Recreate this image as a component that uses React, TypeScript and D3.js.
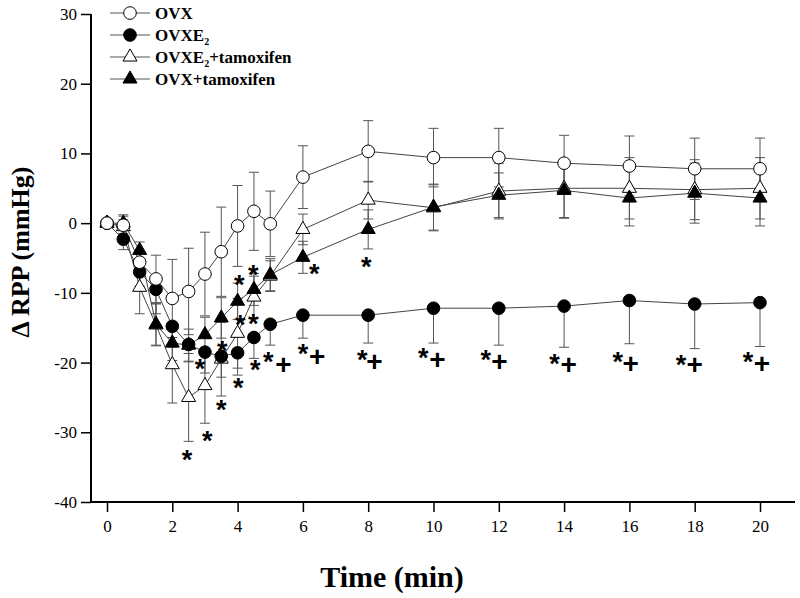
import React, { useRef, useEffect } from "react";
import * as d3 from "d3";

// time points (min)
const times = [0, 0.5, 1, 1.5, 2, 2.5, 3, 3.5, 4, 4.5, 5, 6, 8, 10, 12, 14, 16, 18, 20];

// delta RPP (mmHg) for each group
const ovx = [0, -0.3, -5.6, -8.0, -10.8, -9.8, -7.3, -4.1, -0.4, 1.7, -0.1, 6.6, 10.3, 9.4, 9.4, 8.6, 8.2, 7.8, 7.8];
const ovxErr = [0.5, 1.5, 1.5, 3.4, 5.6, 6.2, 6.0, 6.4, 5.8, 5.6, 4.7, 4.5, 4.4, 4.2, 4.2, 4.0, 4.3, 4.4, 4.4];

const ovxE2 = [0, -2.3, -7.0, -9.5, -14.8, -17.4, -18.5, -19.1, -18.6, -16.4, -14.5, -13.2, -13.2, -12.2, -12.2, -11.9, -11.1, -11.6, -11.4];
const ovxE2Err = [0.3, 1.5, 2.0, 3.5, 3.0, 2.5, 3.0, 3.0, 3.2, 3.0, 3.0, 3.3, 4.0, 5.0, 5.3, 5.9, 6.2, 6.4, 6.3];

const ovxE2Tam = [0, -0.5, -9.2, -14.6, -20.3, -25.0, -23.3, -19.5, -15.8, -10.6, -7.6, -0.9, 3.3, 2.2, 4.6, 5.0, 5.0, 4.8, 5.0];
const ovxE2TamErr = [0.5, 1.0, 3.8, 3.0, 5.5, 6.3, 5.4, 5.3, 5.0, 3.0, 2.2, 2.2, 2.7, 3.3, 4.0, 4.2, 4.4, 4.3, 4.4];

const ovxTam = [0, 0.0, -3.9, -14.5, -17.2, -17.5, -16.0, -13.6, -11.2, -9.5, -7.4, -4.9, -0.9, 2.3, 4.0, 4.7, 3.6, 4.3, 3.6];
const ovxTamErr = [0.5, 1.0, 1.2, 3.0, 2.5, 2.3, 2.5, 2.9, 2.6, 2.3, 2.3, 2.3, 2.8, 3.3, 3.2, 4.0, 4.0, 4.3, 4.0];

// significance marks (time, value)
const starT = [2.45, 3.07, 3.5, 3.53, 2.85, 4.02, 4.08, 4.48, 4.54, 4.94, 4.05, 4.48, 6.35, 7.94, 6.0, 7.82, 9.69, 11.6, 13.71, 15.64, 17.58, 19.63];
const starV = [-33.2, -30.4, -25.9, -17.5, -20.1, -22.8, -13.8, -13.6, -20.2, -19.1, -8.0, -6.6, -6.4, -5.4, -18.0, -18.8, -18.5, -18.8, -19.3, -19.1, -19.5, -19.1];
const plusT = [5.4, 6.44, 8.19, 10.12, 12.02, 14.14, 16.04, 18.0, 20.06];
const plusV = [-20.2, -19.1, -19.8, -19.5, -19.8, -20.3, -20.1, -20.3, -20.1];

const xTicks = [0, 2, 4, 6, 8, 10, 12, 14, 16, 18, 20];
const yTicks = [-40, -30, -20, -10, 0, 10, 20, 30];

const series = [
  { name: "OVX", values: ovx, err: ovxErr, shape: "circle", fill: "#fff", both: true },
  { name: "OVXE2", values: ovxE2, err: ovxE2Err, shape: "circle", fill: "#000", both: false },
  { name: "OVXE2+tamoxifen", values: ovxE2Tam, err: ovxE2TamErr, shape: "triangle", fill: "#fff", both: true },
  { name: "OVX+tamoxifen", values: ovxTam, err: ovxTamErr, shape: "triangle", fill: "#000", both: true },
];

const serif = "'Liberation Serif', 'Times New Roman', serif";
const sans = "'Liberation Sans', Arial, sans-serif";

export default function App() {
  const svgRef = useRef<SVGSVGElement>(null);

  useEffect(() => {
    const svg = d3.select(svgRef.current);
    svg.selectAll("*").remove();

    const x = d3.scaleLinear().domain([0, 20]).range([107, 760]);
    const y = d3.scaleLinear().domain([-40, 30]).range([502, 14]);
    const axisX = 91;
    const axisY = 502;

    const circle = d3.symbol().type(d3.symbolCircle).size(125);
    const tri = d3.symbol().type(d3.symbolTriangle).size(85);

    // error bars first
    const drawOrder = [2, 3, 1, 0];
    drawOrder.forEach((si) => {
      const s = series[si];
      const g = svg.append("g");
      times.forEach((t, i) => {
        const e = s.err[i];
        const top = s.both ? s.values[i] + e : s.values[i];
        const bot = s.values[i] - e;
        g.append("line").attr("x1", x(t)).attr("x2", x(t)).attr("y1", y(top)).attr("y2", y(bot))
          .attr("stroke", "#555").attr("stroke-width", 1);
        const caps = s.both ? [top, bot] : [bot];
        caps.forEach((c) => {
          g.append("line").attr("x1", x(t) - 5).attr("x2", x(t) + 5).attr("y1", y(c)).attr("y2", y(c))
            .attr("stroke", "#555").attr("stroke-width", 1);
        });
      });
    });

    // lines + markers
    const line = d3.line<number>().x((d, i) => x(times[i])).y((d) => y(d));
    drawOrder.forEach((si) => {
      const s = series[si];
      svg.append("path").attr("d", line(s.values)).attr("fill", "none")
        .attr("stroke", "#444").attr("stroke-width", 1);
    });
    drawOrder.forEach((si) => {
      const s = series[si];
      svg.append("g").selectAll("path").data(s.values).enter().append("path")
        .attr("d", s.shape === "circle" ? circle() : tri())
        .attr("transform", (d, i) => `translate(${x(times[i])},${y(d)})`)
        .attr("fill", s.fill).attr("stroke", "#000").attr("stroke-width", 1);
    });

    // significance marks
    svg.append("g").selectAll("text").data(starT).enter().append("text")
      .attr("x", (d) => x(d)).attr("y", (d, i) => y(starV[i]) + 0.55 * 27)
      .attr("text-anchor", "middle").style("font-family", sans).style("font-size", "27px")
      .style("font-weight", "bold").text("*");
    svg.append("g").selectAll("text").data(plusT).enter().append("text")
      .attr("x", (d) => x(d)).attr("y", (d, i) => y(plusV[i]) + 0.35 * 28)
      .attr("text-anchor", "middle").style("font-family", sans).style("font-size", "28px")
      .style("font-weight", "bold").text("+");

    // axes
    svg.append("line").attr("x1", axisX).attr("x2", axisX).attr("y1", y(30)).attr("y2", axisY)
      .attr("stroke", "#000").attr("stroke-width", 2);
    svg.append("line").attr("x1", axisX).attr("x2", 795).attr("y1", axisY).attr("y2", axisY)
      .attr("stroke", "#000").attr("stroke-width", 2);

    const yAxis = svg.append("g").attr("transform", `translate(${axisX},0)`)
      .call(d3.axisLeft(y).tickValues(yTicks).tickSize(10).tickSizeOuter(0).tickPadding(4)
        .tickFormat((d) => String(d)));
    yAxis.select(".domain").remove();
    yAxis.selectAll("line").attr("stroke-width", 1.5);
    yAxis.selectAll("text").style("font-family", serif).style("font-size", "17px").attr("fill", "#000");

    const xAxis = svg.append("g").attr("transform", `translate(0,${axisY})`)
      .call(d3.axisBottom(x).tickValues(xTicks).tickSize(10).tickSizeOuter(0).tickPadding(8)
        .tickFormat((d) => String(d)));
    xAxis.select(".domain").remove();
    xAxis.selectAll("line").attr("stroke-width", 1.5);
    xAxis.selectAll("text").style("font-family", serif).style("font-size", "17px").attr("fill", "#000");

    // axis titles
    svg.append("text").attr("x", 392).attr("y", 587).attr("text-anchor", "middle")
      .style("font-family", serif).style("font-size", "30px").style("font-weight", "bold")
      .text("Time (min)");
    svg.append("text").attr("transform", "translate(29,252) rotate(-90)").attr("text-anchor", "middle")
      .style("font-family", serif).style("font-size", "26px").style("font-weight", "bold")
      .text("\u0394 RPP (mmHg)");

    // legend
    const legendY = [13, 35, 57, 79];
    series.forEach((s, i) => {
      const g = svg.append("g").attr("transform", `translate(0,${legendY[i]})`);
      g.append("line").attr("x1", 110).attr("x2", 150).attr("y1", 0).attr("y2", 0)
        .attr("stroke", "#555").attr("stroke-width", 1);
      g.append("path").attr("d", s.shape === "circle" ? circle() : tri())
        .attr("transform", "translate(130,0)").attr("fill", s.fill).attr("stroke", "#000");
      const txt = g.append("text").attr("x", 155).attr("y", 6)
        .style("font-family", serif).style("font-size", "17px").style("font-weight", "bold");
      if (s.name.startsWith("OVXE2")) {
        txt.append("tspan").text("OVXE");
        txt.append("tspan").attr("dy", 4).style("font-size", "10px").text("2");
        if (s.name.length > 5) txt.append("tspan").attr("dy", -4).text(s.name.slice(5));
      } else {
        txt.text(s.name);
      }
    });
  }, []);

  return (
    <svg ref={svgRef} width={800} height={598}
      style={{ position: "absolute", left: 0, top: 0, background: "#fff" }} />
  );
}
